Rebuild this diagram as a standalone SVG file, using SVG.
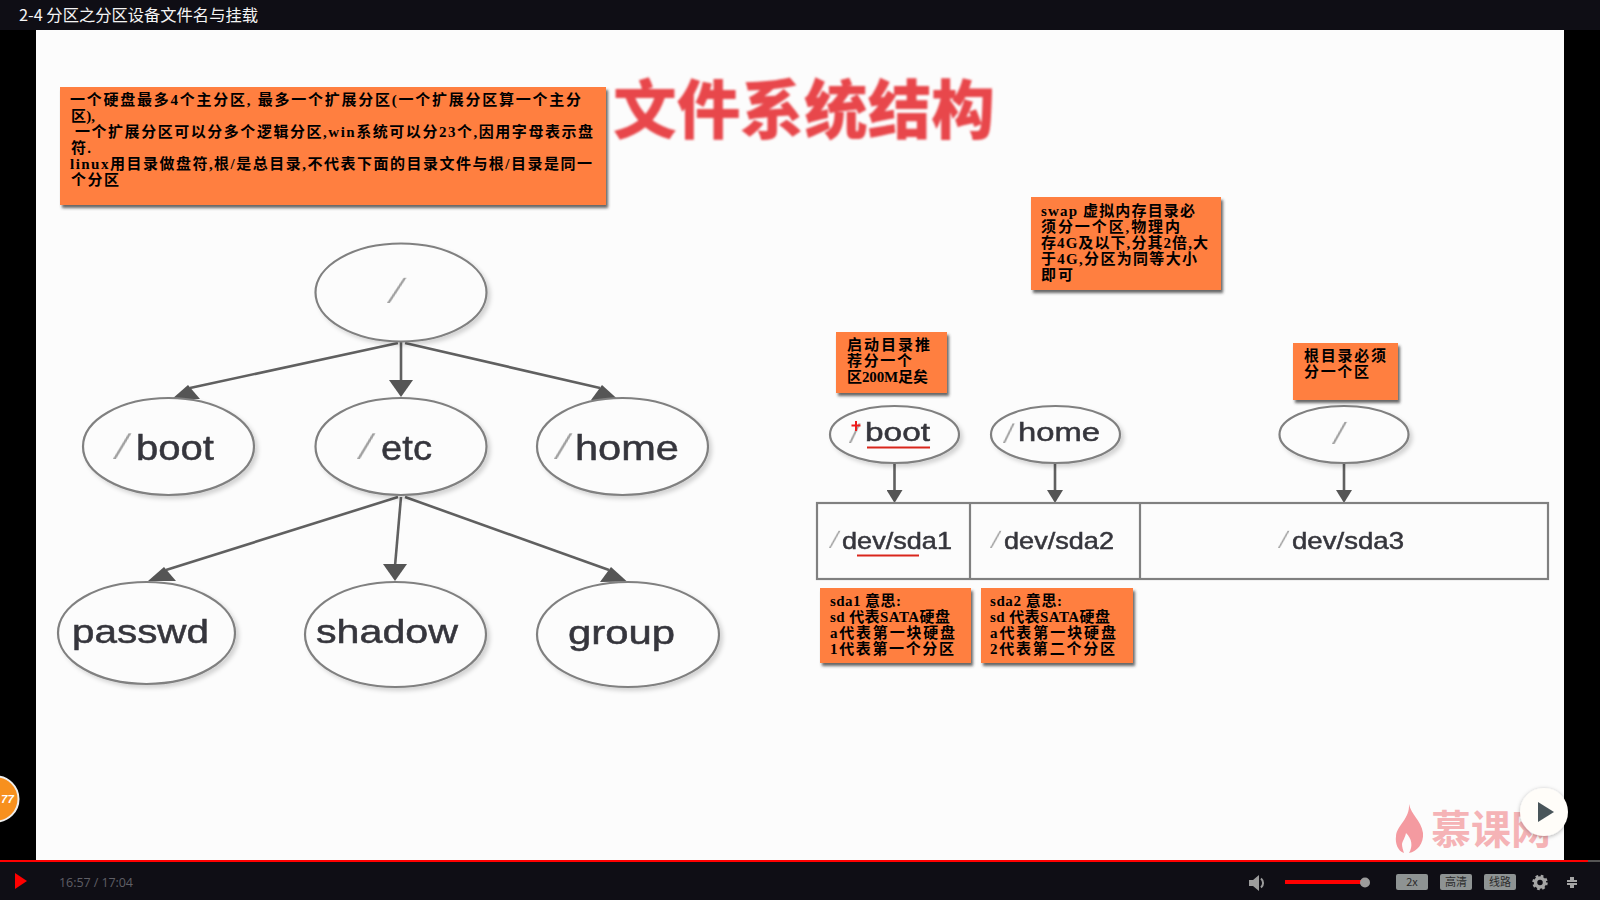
<svg xmlns="http://www.w3.org/2000/svg" width="1600" height="900" viewBox="0 0 1600 900">
<style>
.cjk{font-family:"Noto Sans CJK SC","Liberation Sans",sans-serif}
.note{fill:#ff7f3f;filter:url(#boxShadow)}
.nt{font-family:"Liberation Serif","Noto Sans CJK SC",serif;font-size:15px;font-weight:700;fill:#000}
.node{fill:#fcfcfc;stroke:#808080;stroke-width:2.2;filter:url(#soft)}
.lbl{font-family:"Liberation Sans",Arial,sans-serif;fill:#36363c;stroke:#36363c;stroke-width:0.5;filter:url(#blur)}
.sl{font-family:"Liberation Sans",Arial,sans-serif;fill:#a0a0a0;filter:url(#blur)}
.conn{stroke:#606060;stroke-width:2.6;fill:none}
.head{fill:#555}
.cell{fill:#fcfcfc;stroke:#808080;stroke-width:2.2}
.ul{stroke:#d9261c;stroke-width:2.2}
.btn{fill:#8e9393}
.bt{font-family:"Noto Sans CJK SC","Liberation Sans",sans-serif;font-size:11px;fill:#2b2b2b;text-anchor:middle}
.ctl{fill:#9c9c9c}
</style>
<defs>
<filter id="blur" x="-10%" y="-20%" width="120%" height="140%"><feGaussianBlur stdDeviation="0.6"/></filter>
<filter id="blur2" x="-5%" y="-10%" width="110%" height="120%"><feGaussianBlur stdDeviation="0.9"/></filter>
<filter id="soft" x="-10%" y="-10%" width="125%" height="125%"><feGaussianBlur in="SourceGraphic" stdDeviation="0.6" result="b"/><feDropShadow in="b" dx="3" dy="3" stdDeviation="2" flood-color="#000" flood-opacity="0.16"/></filter>
<filter id="boxShadow" x="-5%" y="-5%" width="112%" height="118%"><feDropShadow dx="2" dy="3" stdDeviation="1.6" flood-color="#333" flood-opacity="0.75"/></filter>
<filter id="btnShadow" x="-20%" y="-20%" width="140%" height="140%"><feDropShadow dx="0" dy="1" stdDeviation="2" flood-color="#000" flood-opacity="0.3"/></filter>
<marker id="hDown" markerUnits="userSpaceOnUse" markerWidth="26" markerHeight="20" refX="12" refY="2" orient="0"><polygon class="head" points="0,0 24,0 12,17"/></marker>
<marker id="hSmall" markerUnits="userSpaceOnUse" markerWidth="18" markerHeight="16" refX="8" refY="2" orient="0"><polygon class="head" points="0,0 16,0 8,13"/></marker>
<marker id="hLeft" markerUnits="userSpaceOnUse" markerWidth="40" markerHeight="20" refX="22" refY="5" orient="0"><polygon class="head" points="20,2 4,16 32,16"/></marker>
<marker id="hRight" markerUnits="userSpaceOnUse" markerWidth="40" markerHeight="20" refX="18" refY="5" orient="0"><polygon class="head" points="20,2 9,17 36,16.5"/></marker>
</defs>

<rect width="1600" height="900" fill="#000"/>
<rect x="36" y="30" width="1528" height="830" fill="#fcfcfc"/>

<g id="title-bar">
<rect width="1600" height="30" fill="#0f0e15"/>
<text x="19" y="21" class="cjk" font-size="16" fill="#f4f4f4" textLength="239" lengthAdjust="spacingAndGlyphs">2-4 分区之分区设备文件名与挂载</text>
</g>

<g id="slide-title">
<text x="613" y="133" class="cjk" font-size="64" font-weight="900" fill="#e8474c" textLength="382" lengthAdjust="spacingAndGlyphs" filter="url(#blur2)">文件系统结构</text>
</g>

<g id="connectors" filter="url(#blur)">
<line class="conn" x1="398" y1="343" x2="190" y2="388" marker-end="url(#hLeft)"/>
<line class="conn" x1="401" y1="342" x2="401" y2="382" marker-end="url(#hDown)"/>
<line class="conn" x1="405" y1="343" x2="600" y2="388" marker-end="url(#hRight)"/>
<line class="conn" x1="398" y1="497" x2="166" y2="570" marker-end="url(#hLeft)"/>
<line class="conn" x1="401" y1="497" x2="395" y2="566" marker-end="url(#hDown)"/>
<line class="conn" x1="405" y1="497" x2="609" y2="570" marker-end="url(#hRight)"/>
<line class="conn" x1="894.5" y1="463" x2="894.5" y2="492" marker-end="url(#hSmall)"/>
<line class="conn" x1="1055" y1="463" x2="1055" y2="492" marker-end="url(#hSmall)"/>
<line class="conn" x1="1344" y1="463" x2="1344" y2="492" marker-end="url(#hSmall)"/>
</g>

<g id="node-root"><ellipse class="node" cx="401" cy="292.5" rx="85.5" ry="49"/>
<text class="sl" transform="translate(387 303) skewX(-21)" font-size="35">/</text></g>
<g id="node-boot"><ellipse class="node" cx="168.5" cy="446.5" rx="85.5" ry="48.5"/>
<text class="sl" transform="translate(113 459) skewX(-18)" font-size="36">/</text>
<text class="lbl" x="136" y="460" font-size="35" textLength="78" lengthAdjust="spacingAndGlyphs">boot</text></g>
<g id="node-etc"><ellipse class="node" cx="401" cy="446.5" rx="85.5" ry="48.5"/>
<text class="sl" transform="translate(357 459) skewX(-18)" font-size="36">/</text>
<text class="lbl" x="381" y="460" font-size="35" textLength="51" lengthAdjust="spacingAndGlyphs">etc</text></g>
<g id="node-home"><ellipse class="node" cx="622.5" cy="446.5" rx="85.5" ry="48.5"/>
<text class="sl" transform="translate(554 459) skewX(-18)" font-size="36">/</text>
<text class="lbl" x="575" y="460" font-size="35" textLength="104" lengthAdjust="spacingAndGlyphs">home</text></g>
<g id="node-passwd"><ellipse class="node" cx="146.5" cy="633" rx="88.5" ry="51"/>
<text class="lbl" x="72" y="643" font-size="33" textLength="137" lengthAdjust="spacingAndGlyphs">passwd</text></g>
<g id="node-shadow"><ellipse class="node" cx="395.5" cy="634.5" rx="90.5" ry="52.5"/>
<text class="lbl" x="316" y="643" font-size="33" textLength="142" lengthAdjust="spacingAndGlyphs">shadow</text></g>
<g id="node-group"><ellipse class="node" cx="628" cy="634.5" rx="91" ry="52.5"/>
<text class="lbl" x="568" y="644" font-size="33" textLength="107" lengthAdjust="spacingAndGlyphs">group</text></g>

<g id="node-mount-boot"><ellipse class="node" cx="894.5" cy="434.5" rx="64.5" ry="28.5"/>
<text class="sl" transform="translate(849 443) skewX(-12)" font-size="27">/</text>
<text class="lbl" x="865" y="441" font-size="26" textLength="65" lengthAdjust="spacingAndGlyphs">boot</text>
<line class="ul" x1="867" y1="447.5" x2="930" y2="447.500"/>
<path d="M856 421v10M851.5 425.5h9" stroke="#ee1c1c" stroke-width="2" fill="none"/></g>
<g id="node-mount-home"><ellipse class="node" cx="1055.5" cy="434.5" rx="64.5" ry="28.5"/>
<text class="sl" transform="translate(1003 443) skewX(-12)" font-size="27">/</text>
<text class="lbl" x="1018" y="441" font-size="26" textLength="82" lengthAdjust="spacingAndGlyphs">home</text></g>
<g id="node-mount-root"><ellipse class="node" cx="1344" cy="434.5" rx="64.500" ry="28.5"/>
<text class="sl" transform="translate(1332 444) skewX(-16)" font-size="31">/</text></g>

<g id="partition-table" filter="url(#blur)">
<rect class="cell" x="817" y="503" width="731" height="76"/>
<line class="cell" x1="970" y1="503" x2="970" y2="579"/>
<line class="cell" x1="1140" y1="503" x2="1140" y2="579"/>
</g>
<g id="node-sda1"><text class="sl" transform="translate(829 548) skewX(-17)" font-size="22">/</text>
<text class="lbl" x="842" y="549" font-size="24" textLength="110" lengthAdjust="spacingAndGlyphs">dev/sda1</text>
<line class="ul" x1="857" y1="555.5" x2="919" y2="555.500"/></g>
<g id="node-sda2"><text class="sl" transform="translate(990 548) skewX(-17)" font-size="22">/</text>
<text class="lbl" x="1004" y="549" font-size="24" textLength="110" lengthAdjust="spacingAndGlyphs">dev/sda2</text></g>
<g id="node-sda3"><text class="sl" transform="translate(1278 548) skewX(-17)" font-size="22">/</text>
<text class="lbl" x="1292" y="549" font-size="24" textLength="112" lengthAdjust="spacingAndGlyphs">dev/sda3</text></g>

<g id="note-main"><rect class="note" x="60" y="87" width="546" height="118"/>
<text class="nt" x="70" y="105" textLength="511" lengthAdjust="spacing">一个硬盘最多4个主分区, 最多一个扩展分区(一个扩展分区算一个主分</text>
<text class="nt" x="71" y="121" textLength="24" lengthAdjust="spacing">区),</text>
<text class="nt" x="75" y="137" textLength="518" lengthAdjust="spacing">一个扩展分区可以分多个逻辑分区,win系统可以分23个,因用字母表示盘</text>
<text class="nt" x="71" y="153" textLength="20" lengthAdjust="spacing">符.</text>
<text class="nt" x="70" y="169" textLength="522" lengthAdjust="spacing">linux用目录做盘符,根/是总目录,不代表下面的目录文件与根/目录是同一</text>
<text class="nt" x="71" y="185" textLength="48" lengthAdjust="spacing">个分区</text></g>

<g id="note-swap"><rect class="note" x="1031" y="197" width="190" height="93"/>
<text class="nt" x="1041" y="216" textLength="154" lengthAdjust="spacing">swap 虚拟内存目录必</text>
<text class="nt" x="1041" y="232" textLength="139" lengthAdjust="spacing">须分一个区,物理内</text>
<text class="nt" x="1041" y="248" textLength="167" lengthAdjust="spacing">存4G及以下,分其2倍,大</text>
<text class="nt" x="1041" y="264" textLength="156" lengthAdjust="spacing">于4G,分区为同等大小</text>
<text class="nt" x="1041" y="280" textLength="32" lengthAdjust="spacing">即可</text></g>

<g id="note-boot"><rect class="note" x="836" y="332" width="111" height="61"/>
<text class="nt" x="847" y="350" textLength="83" lengthAdjust="spacing">启动目录推</text>
<text class="nt" x="847" y="366" textLength="65" lengthAdjust="spacing">荐分一个</text>
<text class="nt" x="847" y="382" textLength="81" lengthAdjust="spacing">区200M足矣</text></g>

<g id="note-root"><rect class="note" x="1293" y="343" width="105" height="57"/>
<text class="nt" x="1304" y="361" textLength="82" lengthAdjust="spacing">根目录必须</text>
<text class="nt" x="1304" y="377" textLength="65" lengthAdjust="spacing">分一个区</text></g>

<g id="note-sda1"><rect class="note" x="820" y="588" width="151" height="75"/>
<text class="nt" x="830" y="606" textLength="71" lengthAdjust="spacing">sda1 意思:</text>
<text class="nt" x="830" y="622" textLength="120" lengthAdjust="spacing">sd 代表SATA硬盘</text>
<text class="nt" x="830" y="638" textLength="125" lengthAdjust="spacing">a代表第一块硬盘</text>
<text class="nt" x="830" y="654" textLength="124" lengthAdjust="spacing">1代表第一个分区</text></g>

<g id="note-sda2"><rect class="note" x="981" y="588" width="152" height="75"/>
<text class="nt" x="990" y="606" textLength="72" lengthAdjust="spacing">sda2 意思:</text>
<text class="nt" x="990" y="622" textLength="120" lengthAdjust="spacing">sd 代表SATA硬盘</text>
<text class="nt" x="990" y="638" textLength="126" lengthAdjust="spacing">a代表第一块硬盘</text>
<text class="nt" x="990" y="654" textLength="125" lengthAdjust="spacing">2代表第二个分区</text></g>

<g id="watermark">
<path d="M1409 804c2 11 12 16 14 29 1 10-6 19-14 20 4-7 3-14-3-20-1 5-3 7-4 11 0 3 1 6 2 9-6-2-9-9-8-17 1-11 14-17 13-32z" fill="#f49aa0"/>
<text x="1431" y="844" class="cjk" font-size="40" font-weight="700" fill="#f5b3b6" textLength="120" lengthAdjust="spacingAndGlyphs">慕课网</text>
</g>

<g id="play-overlay">
<circle cx="1544" cy="812" r="24" fill="#fffdf9" filter="url(#btnShadow)"/>
<polygon points="1538,802 1554,812 1538,822" fill="#49555a"/>
</g>

<g id="badge">
<circle cx="-4" cy="799" r="22.500" fill="#f7901e" stroke="#eee" stroke-width="2"/>
<text x="1" y="803" font-family="'Liberation Sans',sans-serif" font-size="11.500" font-weight="700" font-style="italic" fill="#fff">77</text>
</g>

<g id="player-bar">
<rect y="860" width="1600" height="40" fill="#0f0e15"/>
<rect y="860" width="1588" height="2" fill="#f00"/>
<rect x="1588" y="860" width="12" height="2" fill="#555"/>
<polygon points="15,873 27,881 15,889" fill="#f00"/>
<text x="59" y="887" font-family="'Open Sans','Liberation Sans',sans-serif" font-size="12.500" fill="#5f5f66" textLength="74">16:57 / 17:04</text>
<path class="ctl" d="M1249 880h4l6-5v16l-6-5h-4z"/>
<path d="M1261 878.500a6 6 0 0 1 0 9" stroke="#9c9c9c" stroke-width="2" fill="none"/>
<rect x="1285" y="880" width="78" height="4" fill="#f00"/>
<circle class="ctl" cx="1365" cy="882.500" r="5"/>
<rect class="btn" x="1396" y="874" width="32" height="16" rx="2"/>
<text class="bt" x="1412" y="886">2x</text>
<rect class="btn" x="1440" y="874" width="32" height="16" rx="2"/>
<text class="bt" x="1456" y="886" font-size="10">高清</text>
<rect class="btn" x="1484" y="874" width="32" height="16" rx="2"/>
<text class="bt" x="1500" y="886" font-size="10">线路</text>
<circle cx="1540" cy="882.500" r="4.500" fill="none" stroke="#a5a5a5" stroke-width="3.500"/>
<circle cx="1540" cy="882.500" r="6.500" fill="none" stroke="#a5a5a5" stroke-width="2.500" stroke-dasharray="2.600 2.500"/>
<path d="M1571 877v4h-4M1573 877v4h4M1571 888v-4h-4M1573 888v-4h4" stroke="#a5a5a5" stroke-width="2" fill="none"/>
</g>
</svg>
